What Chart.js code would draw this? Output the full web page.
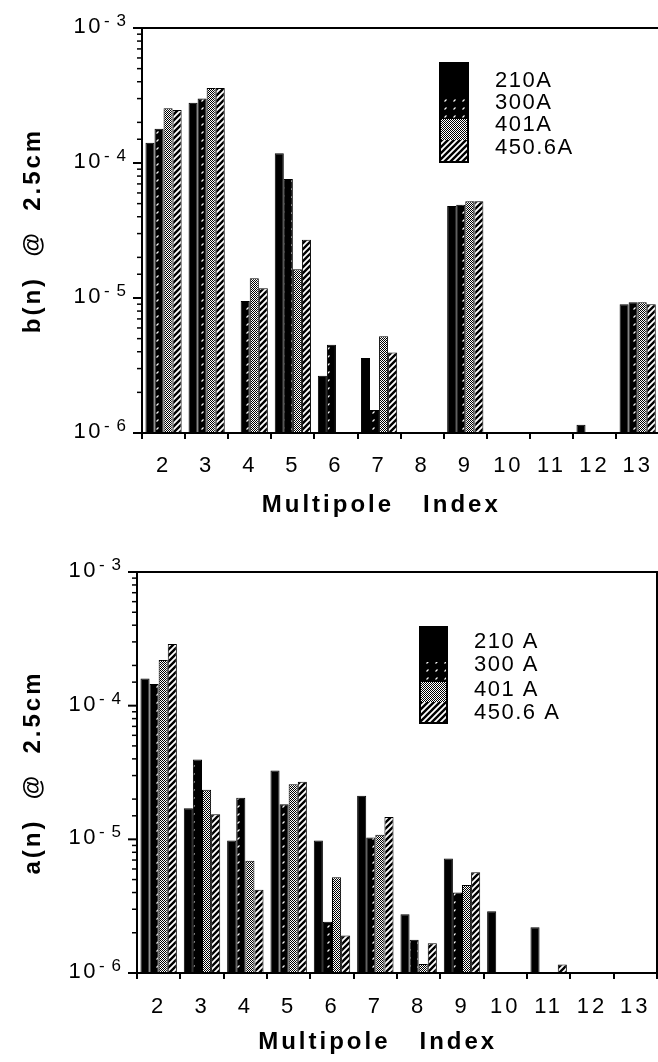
<!DOCTYPE html>
<html>
<head>
<meta charset="utf-8">
<script src="https://cdn.jsdelivr.net/npm/chart.js@4.4.0/dist/chart.umd.min.js"></script>
<style>
  html, body { margin: 0; padding: 0; background: #fff; overflow: hidden; }
  #arriba { position: absolute; left: 0; top: 0; }
  #abajo { position: absolute; left: 0; top: 530px; }
</style>
</head>
<body>
<canvas id="arriba" width="664" height="520"></canvas>
<canvas id="abajo" width="664" height="532"></canvas>
<script>
// indices de multipolo
const indices = ['2', '3', '4', '5', '6', '7', '8', '9', '10', '11', '12', '13'];
const nombresB = ['210A', '300A', '401A', '450.6A'];
const nombresA = ['210 A', '300 A', '401 A', '450.6 A'];

// b(n) @ 2.5cm  (null = por debajo de 1e-6, no se ve barra)
const b210 = [1.41e-4, 2.80e-4, null, 1.18e-4, 2.66e-6, 3.6e-6, null, 4.8e-5, null, null, 1.15e-6, 9.0e-6];
const b300 = [1.79e-4, 3.00e-4, 9.5e-6, 7.6e-5, 4.5e-6, 1.48e-6, null, 4.9e-5, null, null, null, 9.3e-6];
const b401 = [2.54e-4, 3.60e-4, 1.40e-5, 1.63e-5, null, 5.2e-6, null, 5.2e-5, null, null, null, 9.3e-6];
const b450 = [2.47e-4, 3.60e-4, 1.18e-5, 2.70e-5, null, 3.95e-6, null, 5.2e-5, null, null, null, 9.0e-6];

// a(n) @ 2.5cm
const a210 = [1.60e-4, 1.71e-5, 9.8e-6, 3.27e-5, 9.8e-6, 2.12e-5, 2.75e-6, 7.2e-6, 2.9e-6, 2.2e-6, null, null];
const a300 = [1.45e-4, 3.95e-5, 2.05e-5, 1.83e-5, 2.42e-6, 1.03e-5, 1.77e-6, 4.0e-6, null, null, null, null];
const a401 = [2.20e-4, 2.35e-5, 6.9e-6, 2.58e-5, 5.2e-6, 1.08e-5, 1.17e-6, 4.55e-6, null, null, null, null];
const a450 = [2.89e-4, 1.54e-5, 4.2e-6, 2.70e-5, 1.91e-6, 1.47e-5, 1.67e-6, 5.66e-6, null, 1.16e-6, null, null];

// etiquetas del eje y: 10 elevado a ...
const decadas = [1e-6, 1e-5, 1e-4, 1e-3];
const exponentes = ['- 6', '- 5', '- 4', '- 3'];

const fuente = 'Liberation Sans';

// rellenos tipo trama para cada serie
function trama(tipo) {
  const c = document.createElement('canvas');
  const g = c.getContext('2d');
  if (tipo === 'negro') {
    return '#000';
  } else if (tipo === 'rayitas') {
    c.width = 9; c.height = 8;
    g.fillStyle = '#000'; g.fillRect(0, 0, 9, 8);
    g.strokeStyle = '#fff'; g.lineWidth = 1.1;
    g.beginPath(); g.moveTo(3.5, 5.5); g.lineTo(5.5, 3.5); g.stroke();
  } else if (tipo === 'puntos') {
    c.width = 2; c.height = 2;
    g.fillStyle = '#fff'; g.fillRect(0, 0, 2, 2);
    g.fillStyle = '#000'; g.fillRect(0, 0, 1, 1); g.fillRect(1, 1, 1, 1);
  } else {
    c.width = 6; c.height = 6;
    g.fillStyle = '#fff'; g.fillRect(0, 0, 6, 6);
    g.strokeStyle = '#000'; g.lineWidth = 2.4;
    g.beginPath();
    g.moveTo(-1, 7); g.lineTo(7, -1);
    g.moveTo(-1, 1); g.lineTo(1, -1);
    g.moveTo(5, 7); g.lineTo(7, 5);
    g.stroke();
  }
  return g.createPattern(c, 'repeat');
}
const rellenos = [trama('negro'), trama('rayitas'), trama('puntos'), trama('rayas')];

// marco, marcas del eje y, etiquetas 10^n y leyenda
const adornos = {
  id: 'adornos',
  beforeDraw(chart) {
    chart.ctx.letterSpacing = '3px';
  },
  afterDatasetsDraw(chart, args, opts) {
    const { ctx, chartArea: a } = chart;
    const y = chart.scales.y;
    ctx.save();
    ctx.strokeStyle = '#000';
    ctx.lineWidth = 2;
    ctx.strokeRect(a.left, a.top, a.right - a.left, a.bottom - a.top);

    // marcas del eje log
    y.ticks.forEach(t => {
      const py = y.getPixelForValue(t.value);
      const l = Math.log10(t.value);
      const mayor = Math.abs(l - Math.round(l)) < 1e-6;
      ctx.lineWidth = mayor ? 2 : 1.5;
      ctx.beginPath();
      ctx.moveTo(a.left, py);
      ctx.lineTo(a.left - (mayor ? 9 : 5), py);
      ctx.stroke();
    });

    // etiquetas 10^-n
    ctx.fillStyle = '#000';
    decadas.forEach((v, i) => {
      const py = y.getPixelForValue(v);
      ctx.letterSpacing = '2.5px';
      ctx.font = '22px "' + fuente + '"';
      ctx.textAlign = 'right';
      ctx.textBaseline = 'alphabetic';
      ctx.fillText('10', a.left - 39, py + 5);
      ctx.letterSpacing = '1px';
      ctx.font = '17px "' + fuente + '"';
      ctx.textAlign = 'left';
      ctx.fillText(exponentes[i], a.left - 38, py - 2);
    });

    // leyenda: una sola caja partida en cuatro
    const L = opts.leyenda;
    let yy = L.y;
    ctx.letterSpacing = '1.5px';
    ctx.font = '22px "' + fuente + '"';
    ctx.textAlign = 'left';
    ctx.textBaseline = 'middle';
    chart.data.datasets.forEach((ds, i) => {
      const h = L.alturas[i];
      ctx.fillStyle = ds.backgroundColor;
      ctx.fillRect(L.x, yy, L.ancho, h);
      ctx.fillStyle = '#000';
      ctx.fillText(ds.label, L.xt, L.yt[i]);
      yy += h;
    });
    ctx.lineWidth = 2;
    ctx.strokeRect(L.x, L.y, L.ancho, yy - L.y);
    ctx.restore();
  }
};

function armar(id, series, nombres, tituloY, lay) {
  return new Chart(document.getElementById(id), {
    type: 'bar',
    data: {
      labels: indices,
      datasets: series.map((d, i) => ({
        label: nombres[i],
        data: d,
        backgroundColor: rellenos[i],
        borderColor: '#000',
        borderWidth: 1,
        categoryPercentage: 0.84,
        barPercentage: 1.0
      }))
    },
    options: {
      responsive: false,
      animation: false,
      layout: { padding: { top: lay.arriba, right: lay.derecha, left: 0, bottom: 0 } },
      plugins: {
        legend: { display: false },
        tooltip: { enabled: false },
        adornos: { leyenda: lay.leyenda }
      },
      scales: {
        x: {
          type: 'category',
          offset: true,
          grid: { display: true, drawOnChartArea: false, offset: true, tickLength: 6, color: '#000', lineWidth: 2 },
          border: { display: false },
          ticks: { color: '#000', font: { family: fuente, size: 22 }, padding: lay.padTicks, maxRotation: 0, autoSkip: false },
          title: {
            display: true, text: 'Multipole   Index    ', color: '#000',
            font: { family: fuente, size: 24, weight: 'bold' },
            padding: { top: 0, bottom: lay.tituloAbajo }
          },
          afterFit: s => { s.height = lay.altoX; }
        },
        y: {
          type: 'logarithmic',
          min: 1e-6,
          max: 1e-3,
          grid: { display: false },
          border: { display: false },
          ticks: { display: false },
          title: {
            display: true, text: tituloY, color: '#000',
            font: { family: fuente, size: 24, weight: 'bold' },
            padding: { top: 19, bottom: 0 }
          },
          afterFit: s => { s.width = lay.anchoY; }
        }
      }
    },
    plugins: [adornos]
  });
}

armar('arriba', [b210, b300, b401, b450], nombresB, 'b(n)  @  2.5cm', {
  arriba: 28, derecha: 2, altoX: 87, anchoY: 142, tituloAbajo: 0, padTicks: 14,
  leyenda: { x: 440, y: 63, ancho: 28, alturas: [35, 21, 21, 22], xt: 495, yt: [81, 103, 125, 148] }
});
armar('abajo', [a210, a300, a401, a450], nombresA, 'a(n)  @  2.5cm', {
  arriba: 42, derecha: 7, altoX: 89, anchoY: 137, tituloAbajo: 5, padTicks: 15,
  leyenda: { x: 420, y: 97, ancho: 27, alturas: [35, 20, 20, 21], xt: 474, yt: [112, 135, 160, 183] }
});
</script>
</body>
</html>
